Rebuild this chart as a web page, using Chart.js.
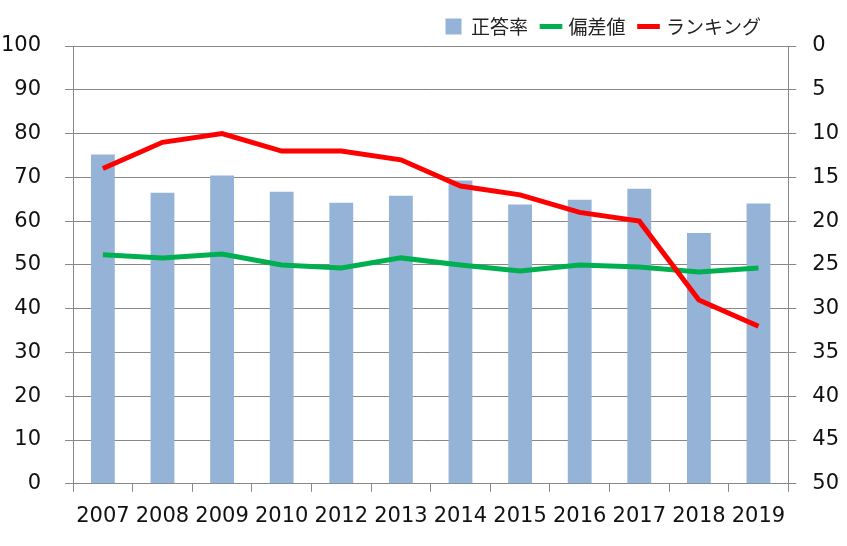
<!DOCTYPE html>
<html>
<head>
<meta charset="utf-8">
<script src="https://cdn.jsdelivr.net/npm/chart.js@4"></script>
<style>
  html, body { margin: 0; padding: 0; background: #fff; }
  #wrap { width: 847px; height: 546px; }
</style>
</head>
<body>
<div id="wrap"><canvas id="chart" width="847" height="546"></canvas></div>
<script>
const years = ["2007","2008","2009","2010","2012","2013","2014","2015","2016","2017","2018","2019"]
const correctRate = [75.2, 66.5, 70.4, 66.7, 64.2, 65.8, 69.3, 63.8, 64.9, 67.4, 57.3, 64.0]
const deviation = [52.3, 51.6, 52.5, 50.0, 49.3, 51.6, 50.0, 48.6, 50.0, 49.5, 48.4, 49.3]
const ranking = [14, 11, 10, 12, 12, 13, 16, 17, 19, 20, 29, 32]

const font = "'DejaVu Sans', Verdana, sans-serif"
const gray = "#888888"

// move the legend a bit to the left, like the original
const legendShift = {
  id: "legendShift",
  afterLayout(chart){
    const lg = chart.legend
    lg.left -= 79
    lg.right -= 79
  }
}

const ctx = document.getElementById("chart").getContext("2d")
new Chart(ctx, {
  type: "bar",
  data: {
    labels: years,
    datasets: [
      {label:"正答率", type:"bar", data:correctRate, backgroundColor:"#95b3d7", yAxisID:"y",
       barPercentage:0.4, categoryPercentage:1, pointStyle:"rect", order:3},
      {label:"偏差値", type:"line", data:deviation, borderColor:"#00b050", backgroundColor:"#00b050",
       borderWidth:5, pointRadius:0, tension:0, yAxisID:"y", pointStyle:"line", order:2},
      {label:"ランキング", type:"line", data:ranking, borderColor:"#ff0000", backgroundColor:"#ff0000",
       borderWidth:5, pointRadius:0, tension:0, yAxisID:"y2", pointStyle:"line", order:1}
    ]
  },
  plugins:[legendShift],
  options: {
    responsive:false,
    animation:false,
    // tick padding is counted twice by the scales, so the outer padding is negative
    layout:{padding:{left:-23, right:-8, top:2, bottom:5}},
    plugins:{
      tooltip:{enabled:false},
      legend:{
        position:"top", align:"end",
        labels:{usePointStyle:true, boxWidth:16, boxHeight:16, padding:15,
          color:"#222", font:{family:"'Noto Sans CJK JP', sans-serif", size:19},
          sort:(a,b)=>a.datasetIndex-b.datasetIndex}
      }
    },
    scales:{
      x:{
        offset:true,
        grid:{drawOnChartArea:false, drawTicks:true, tickLength:8, color:gray, offset:true},
        border:{color:gray},
        ticks:{color:"#111", font:{family:font, size:21}, padding:12, maxRotation:0}
      },
      y:{
        position:"left", min:0, max:100,
        ticks:{stepSize:10, color:"#111", font:{family:font, size:21}, padding:24},
        grid:{color:gray, tickLength:8},
        border:{color:gray}
      },
      y2:{
        position:"right", min:0, max:50, reverse:true,
        ticks:{stepSize:5, color:"#111", font:{family:font, size:21}, padding:16},
        grid:{drawOnChartArea:false, color:gray, tickLength:8},
        border:{color:gray}
      }
    }
  }
})
</script>
</body>
</html>
